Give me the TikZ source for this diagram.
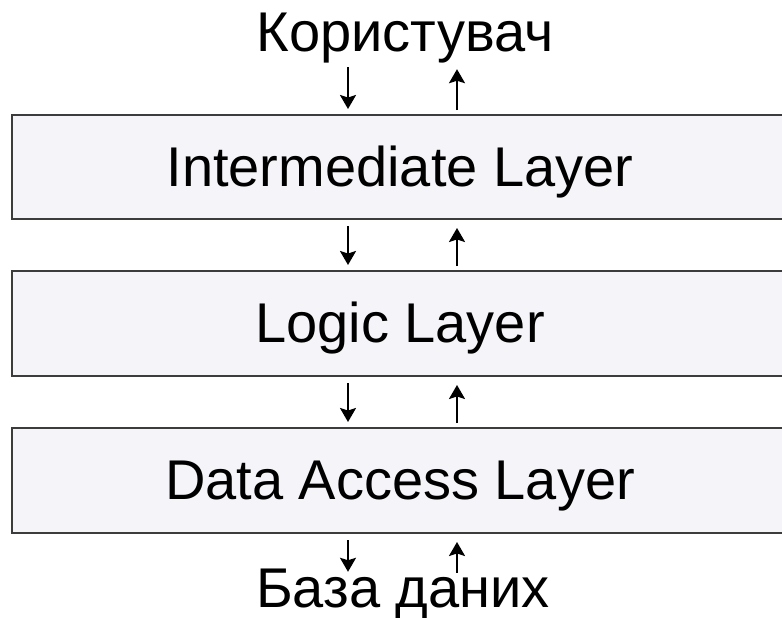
\documentclass[tikz,border=0pt]{standalone}
\usepackage{fontspec}
\setmainfont{Liberation Sans}
\usepackage{tikz}
\usetikzlibrary{arrows.meta}
\definecolor{layerfill}{RGB}{245,245,249}
\definecolor{layerline}{RGB}{60,60,60}
\newcommand{\layerfont}{\fontsize{56}{62}\selectfont}
\tikzset{
  layer/.style={
    draw=layerline,
    fill=layerfill,
    line width=2pt,
    minimum width=776pt,
    inner sep=0pt,
    text height=38pt,
    text depth=0pt,
    font=\layerfont
  },
  ends/.style={inner sep=0pt, font=\layerfont, anchor=base},
  dn/.style={-{Stealth[length=14pt,width=16pt,inset=2.5pt]}, line width=2.2pt, shorten <=6pt, shorten >=5pt},
  up/.style={-{Stealth[length=14pt,width=16pt,inset=2.5pt]}, line width=2.2pt, shorten <=4pt, shorten >=8pt}
}

\begin{document}
\begin{tikzpicture}[x=1pt, y=-1pt]
    \clip (0,0) rectangle (782,618);
    \fill[white] (0,0) rectangle (782,618);

    \node[ends, text height=38pt, text depth=9pt] (user) at (405,52) {Користувач};
    \node[layer, minimum height=104pt] (inter) at (400,167) {Intermediate Layer};
    \node[layer, minimum height=105pt] (logic) at (400,323.5) {Logic Layer};
    \node[layer, minimum height=105pt] (dal) at (400,480.5) {Data Access Layer};
    \node[ends, text height=30pt, text depth=0pt] (db) at (403,607) {База даних};

    \coordinate (dnx) at (348,0);
    \coordinate (upx) at (457,0);

    % requests go down, answers come back up
    \draw[dn] (user.south -| dnx) -- (inter.north -| dnx);
    \draw[up] (inter.north -| upx) -- (user.south -| upx);
    \draw[dn] (inter.south -| dnx) -- (logic.north -| dnx);
    \draw[up] (logic.north -| upx) -- (inter.south -| upx);
    \draw[dn] (logic.south -| dnx) -- (dal.north -| dnx);
    \draw[up] (dal.north -| upx) -- (logic.south -| upx);
    \draw[dn] (dal.south -| dnx) -- (db.north -| dnx);
    \draw[up] (db.north -| upx) -- (dal.south -| upx);
  \end{tikzpicture}
\end{document}
